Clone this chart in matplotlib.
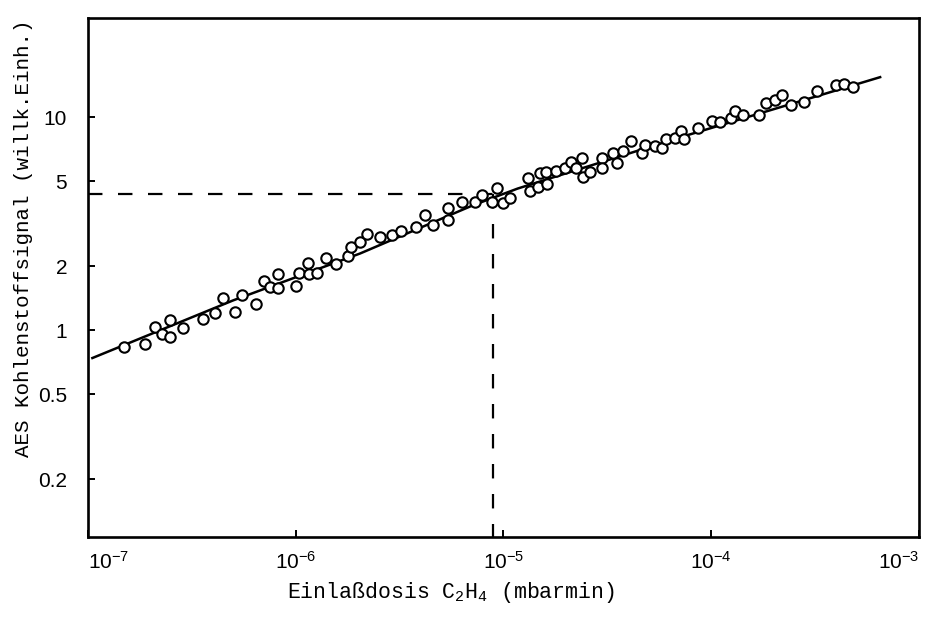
import numpy as np
import matplotlib
matplotlib.use("Agg")
from matplotlib import pyplot as plt
from matplotlib.ticker import FixedLocator, FixedFormatter, NullLocator

plt.rcParams['mathtext.fontset'] = 'custom'
plt.rcParams['mathtext.rm'] = 'Liberation Mono'
plt.rcParams['mathtext.it'] = 'Liberation Mono'
plt.rcParams['mathtext.sf'] = 'Liberation Sans'

# measured points: inlet dose (mbar min) vs. AES carbon signal (arb. units)
dose = [1.49e-7, 1.88e-7, 2.10e-7, 2.27e-7, 2.48e-7, 2.48e-7, 2.87e-7, 3.58e-7,
        4.09e-7, 4.47e-7, 5.10e-7, 5.51e-7, 6.44e-7, 7.03e-7, 7.52e-7, 8.21e-7,
        8.21e-7, 1.00e-6, 1.04e-6, 1.15e-6, 1.16e-6, 1.27e-6, 1.40e-6, 1.56e-6,
        1.78e-6, 1.85e-6, 2.04e-6, 2.20e-6, 2.54e-6, 2.91e-6, 3.21e-6, 3.79e-6,
        4.19e-6, 4.58e-6, 5.41e-6, 5.41e-6, 6.31e-6, 7.29e-6, 7.88e-6, 8.80e-6,
        9.30e-6, 9.94e-6, 1.07e-5, 1.31e-5, 1.34e-5, 1.47e-5, 1.50e-5, 1.62e-5,
        1.60e-5, 1.79e-5, 1.98e-5, 2.11e-5, 2.23e-5, 2.41e-5, 2.39e-5, 2.61e-5,
        2.98e-5, 2.98e-5, 3.37e-5, 3.52e-5, 3.76e-5, 4.11e-5, 4.64e-5, 4.80e-5,
        5.36e-5, 5.79e-5, 6.05e-5, 6.69e-5, 7.15e-5, 7.39e-5, 8.64e-5, 1.01e-4,
        1.10e-4, 1.25e-4, 1.30e-4, 1.42e-4, 1.70e-4, 1.83e-4, 2.03e-4, 2.19e-4,
        2.42e-4, 2.80e-4, 3.23e-4, 3.99e-4, 4.36e-4, 4.81e-4]
signal = [0.837, 0.865, 1.04, 0.964, 1.12, 0.933, 1.02, 1.13,
          1.20, 1.42, 1.22, 1.47, 1.33, 1.71, 1.59, 1.57,
          1.83, 1.62, 1.85, 2.06, 1.83, 1.85, 2.17, 2.04,
          2.22, 2.45, 2.58, 2.82, 2.73, 2.79, 2.91, 3.04,
          3.46, 3.10, 3.28, 3.73, 3.98, 3.98, 4.30, 3.98,
          4.63, 3.94, 4.16, 5.17, 4.49, 4.69, 5.45, 4.84,
          5.51, 5.57, 5.76, 6.14, 5.76, 5.22, 6.41, 5.51,
          6.41, 5.76, 6.77, 6.08, 6.92, 7.71, 6.77, 7.38,
          7.31, 7.15, 7.88, 7.96, 8.59, 7.88, 8.88, 9.58,
          9.47, 9.89, 10.7, 10.2, 10.2, 11.6, 12.0, 12.7,
          11.4, 11.8, 13.3, 14.1, 14.3, 13.8]

# drawn-in calibration curve
fit_dose = [1.05e-7, 5.0e-7, 2.04e-6, 7.1e-6, 1.17e-5, 7.1e-5, 6.5e-4]
fit_signal = [0.74, 1.38, 2.29, 3.85, 4.62, 8.04, 15.4]

# read-off example
ref_dose = 8.95e-6
ref_signal = 4.34

x_ticks = [1e-7, 1e-6, 1e-5, 1e-4, 1e-3]
x_labels = [r'$\mathsf{10^{-7}}$', r'$\mathsf{10^{-6}}$', r'$\mathsf{10^{-5}}$',
            r'$\mathsf{10^{-4}}$', r'$\mathsf{10^{-3}}$']
y_ticks = [0.2, 0.5, 1, 2, 5, 10]
y_labels = ['0.2', '0.5', '1', '2', '5', '10']

fig = plt.figure(figsize=(9.28, 6.17), dpi=100)
ax = fig.add_axes([0.0948, 0.1297, 0.8955, 0.8412])
ax.set_xscale('log')
ax.set_yscale('log')
ax.set_xlim(1e-7, 1e-3)
ax.set_ylim(0.107, 29.2)

ax.plot(fit_dose, fit_signal, color='black', lw=1.8, zorder=2)
ax.plot(dose, signal, 'o', ms=7.5, mfc='white', mec='black', mew=1.5, zorder=3)

dash = (0, (6.5, 7))
ax.plot([1e-7, ref_dose], [ref_signal, ref_signal], color='black', lw=1.6, ls=dash)
ax.plot([ref_dose, ref_dose], [ref_signal, 0.107], color='black', lw=1.6, ls=dash)

ax.xaxis.set_major_locator(FixedLocator(x_ticks))
ax.xaxis.set_major_formatter(FixedFormatter(x_labels))
ax.xaxis.set_minor_locator(NullLocator())
ax.yaxis.set_major_locator(FixedLocator(y_ticks))
ax.yaxis.set_major_formatter(FixedFormatter(y_labels))
ax.yaxis.set_minor_locator(NullLocator())

ax.tick_params(direction='in', length=5, width=1.4, labelsize=15)
ax.tick_params(axis='x', pad=10)
ax.tick_params(axis='y', pad=15)
for lab in ax.get_yticklabels():
    lab.set_family('Liberation Sans')

# keep the end labels inside the figure
fig.canvas.draw()
xl = ax.get_xticklabels()
xl[0].set_horizontalalignment('left')
xl[-1].set_horizontalalignment('right')

for s in ax.spines.values():
    s.set_linewidth(1.9)

ax.set_xlabel(r'Einlaßdosis C$_2$H$_4$ (mbarmin)', family='Liberation Mono',
              fontsize=15.5)
ax.xaxis.set_label_coords(0.437, -0.083)
ax.set_ylabel('AES Kohlenstoffsignal (willk.Einh.)', family='Liberation Mono',
              fontsize=15)
ax.yaxis.set_label_coords(-0.066, 0.576)

fig.savefig('out.png', dpi=100)
